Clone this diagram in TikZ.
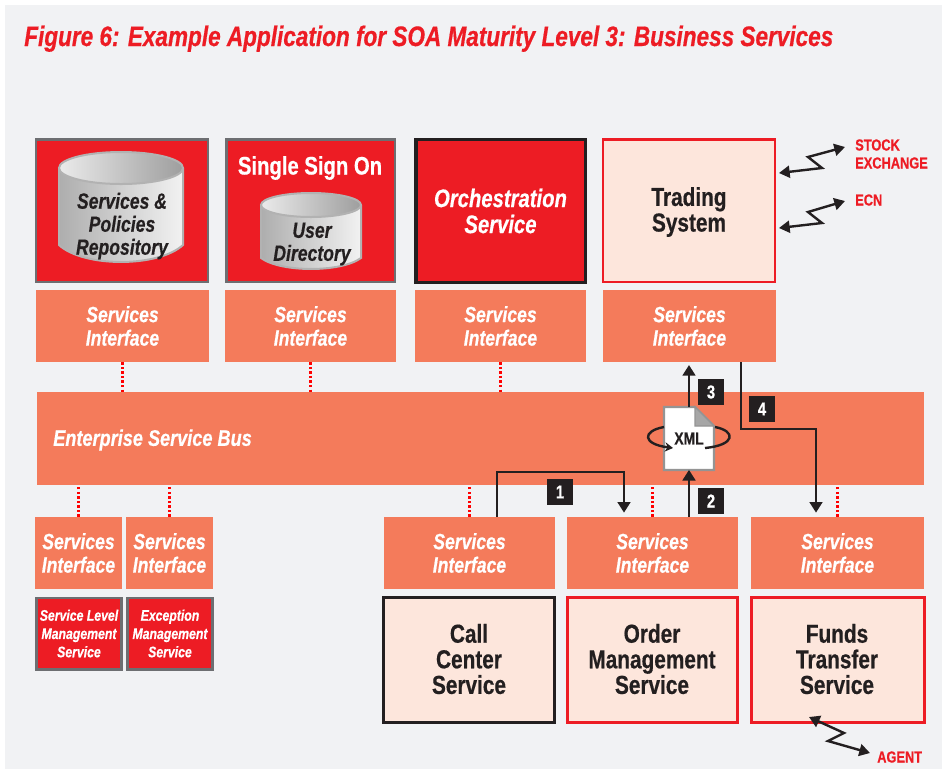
\documentclass[tikz,border=0pt]{standalone}
\usepackage{fontspec}
\setmainfont{Liberation Sans}[FakeStretch=0.8,BoldFeatures={FakeBold=0.5},BoldItalicFeatures={FakeBold=0.5}]
\usetikzlibrary{arrows.meta}
\definecolor{soared}{HTML}{ED1C24}
\definecolor{soasalmon}{HTML}{F47B5B}
\definecolor{soapink}{HTML}{FDE6DC}
\definecolor{soagray}{HTML}{6D6E71}
\definecolor{soapanel}{HTML}{F1F2F4}
\definecolor{soadark}{HTML}{231F20}
\tikzset{
	box/.style={inner sep=0pt,outer sep=0pt,align=center,font=\bfseries,text=soadark},
	ifbox/.style={box,fill=soasalmon,text=white,minimum height=54.5pt,font=\fontsize{16.5}{17.6}\selectfont\bfseries\itshape},
	redbox/.style={box,fill=soared,draw=soagray,line width=2pt,text=white},
	lightbox/.style={box,fill=soapink,draw=soared,line width=2pt,font=\fontsize{19.5}{19.2}\selectfont\bfseries},
	numbox/.style={box,fill=soadark,text=white,minimum width=19.5pt,minimum height=19.5pt,font=\fontsize{14}{14}\selectfont\bfseries},
	extlabel/.style={inner sep=0pt,anchor=west,align=left,text=soared,font=\fontsize{12}{13.5}\selectfont\bfseries},
	bus/.style={red,line width=1.7pt,dash pattern=on 1.8pt off 1.6pt},
	flow/.style={soadark,line width=2pt,-{Triangle[length=8pt,width=9.5pt]}},
	zig/.style={soadark,line width=1.8pt,{Triangle[length=8pt,width=9pt]}-{Triangle[length=8pt,width=9pt]}},
}
% cx, rx, top y, bottom y, ry top, ry bottom
\newcommand{\cyl}[6]{
	\shade[left color=black!32,middle color=black!14,right color=black!5]
		(#1-#2,#3) -- (#1-#2,#4) .. controls (#1-#2*0.6,#4+#6*1.33) and (#1+#2*0.6,#4+#6*1.33) .. (#1+#2,#4) -- (#1+#2,#3) -- cycle;
	\draw[black!30,line width=1.5pt]
		(#1-#2,#3) -- (#1-#2,#4) .. controls (#1-#2*0.6,#4+#6*1.33) and (#1+#2*0.6,#4+#6*1.33) .. (#1+#2,#4) -- (#1+#2,#3);
	\shade[left color=black!8,right color=black!38,draw=black!30,line width=1.5pt] (#1,#3) ellipse [x radius=#2,y radius=#5];
}
\begin{document}
\begin{tikzpicture}[x=0.75pt,y=-0.75pt]
	\useasboundingbox (0,0) rectangle (942,769);
	\fill[white] (0,0) rectangle (942,769);
	\fill[soapanel] (5,5) rectangle (942,769);
	\node[inner sep=0pt,anchor=base west,text=soared,font=\fontsize{21.15}{21}\selectfont\bfseries\itshape] (title) at (24,46)
		{Figure 6: Example Application for SOA Maturity Level 3: Business Services};
	% top row
	\node[redbox,minimum width=129pt,minimum height=107pt] (repo) at (122,210.5) {};
	\node[redbox,minimum width=126.5pt,minimum height=107pt] (sso) at (310.5,210.5) {};
	\node[box,fill=soared,draw=soadark,line width=2.5pt,text=white,minimum width=127pt,minimum height=107pt,
		font=\fontsize{19}{19.5}\selectfont\bfseries\itshape] (orch) at (500.5,211) {Orchestration\\Service};
	\node[lightbox,minimum width=129pt,minimum height=107pt] (trading) at (689,210.5) {};
	\node[box,font=\fontsize{19.5}{19.2}\selectfont\bfseries] (tradingtext) at (689,212) {Trading\\System};
	\cyl{121}{62}{168}{245}{16}{17}
	\node[box,font=\fontsize{16.5}{17.25}\selectfont\bfseries\itshape] (repotext) at (122,226) {Services \&\\Policies\\Repository};
	\node[box,text=white,font=\fontsize{19}{19}\selectfont\bfseries] (ssotext) at (310,168) {Single Sign On};
	\cyl{311}{50}{205}{258}{12}{11}
	\node[box,font=\fontsize{16.5}{17.25}\selectfont\bfseries\itshape] (dirtext) at (312,244) {User\\Directory};
	% interfaces
	\foreach \name/\x/\y/\w in {if1/122.5/326/129.5,if2/310.5/326/128,if3/500.5/326/128,if4/689.5/326/129.5,
		if5/78.5/553/65,if6/169.5/553/65,if7/469.5/553/128,if8/652.5/553/128,if9/837.5/553/129.5}
		\node[ifbox,minimum width=\w pt] (\name) at (\x,\y) {Services\\Interface};
	% bus
	\node[box,fill=soasalmon,minimum width=665pt,minimum height=70pt] (esb) at (480.5,438.5) {};
	\node[inner sep=0pt,anchor=west,text=white,font=\fontsize{17}{17}\selectfont\bfseries\itshape] (esbtext) at (53,440) {Enterprise Service Bus};
	\foreach \name in {if1,if2,if3}
		\draw[bus] (\name.south) -- (\name.south |- esb.north);
	\foreach \name in {if5,if6,if7,if8,if9}
		\draw[bus] (\name.north) -- (\name.north |- esb.south);
	% services at the bottom
	\foreach \name/\x/\txt in {slm/79/{Service Level\\Management\\Service},exc/170/{Exception\\Management\\Service}}
		\node[redbox,minimum width=64pt,minimum height=53.5pt,font=\fontsize{11.5}{13.7}\selectfont\bfseries\itshape] (\name) at (\x,633.5) {\txt};
	\node[lightbox,draw=soadark,line width=2.5pt,minimum width=128pt,minimum height=94pt] (call) at (469,660) {};
	\node[lightbox,minimum width=127.5pt,minimum height=94pt] (order) at (652.5,660) {};
	\node[lightbox,minimum width=129.5pt,minimum height=94pt] (funds) at (838,660) {};
	\node[box,font=\fontsize{19.5}{19.2}\selectfont\bfseries] (calltext) at (469,659) {Call\\Center\\Service};
	\node[box,font=\fontsize{19.5}{19.2}\selectfont\bfseries] (ordertext) at (652,659) {Order\\Management\\Service};
	\node[box,font=\fontsize{19.5}{19.2}\selectfont\bfseries] (fundstext) at (837,659) {Funds\\Transfer\\Service};
	% xml document
	\filldraw[fill=white,draw=black!42,line width=1.6pt] (664,407) -- (695,407) -- (714,426) -- (714,470) -- (664,470) -- cycle;
	\filldraw[fill=black!35,draw=black!42,line width=1pt] (695,407) -- (714,426) -- (695,426) -- cycle;
	\node[box,font=\fontsize{13}{13}\selectfont\bfseries,minimum width=37.5pt,minimum height=47pt] (xml) at (689,438.5) {XML};
	\draw[soadark,line width=1.8pt,-{Stealth[length=6pt,width=7pt]}] (664,427) .. controls (642,431) and (642,444) .. (673,448);
	\draw[soadark,line width=1.8pt] (705,448) .. controls (736,445) and (736,431) .. (715,427);
	% numbered flows
	\coordinate (up1) at (497,472);
	\coordinate (down1) at (624,472);
	\coordinate (out4) at (741,429);
	\coordinate (in4) at (816,429);
	\draw[flow,shorten >=3pt] (up1 |- if7.north) -- (up1) -- (down1) -- (down1 |- if8.north);
	\draw[flow] (xml.south |- if8.north) -- (xml.south);
	\draw[flow,shorten >=2pt] (xml.north) -- (xml.north |- if4.south);
	\draw[flow,shorten >=3pt] (out4 |- if4.south) -- (out4) -- (in4) -- (in4 |- if9.north);
	\node[numbox] (n1) at (560,492) {1};
	\node[numbox] (n2) at (711,501) {2};
	\node[numbox] (n3) at (711,392) {3};
	\node[numbox] (n4) at (762,409) {4};
	% outside links
	\node[extlabel] (stock) at (855,154) {STOCK\\EXCHANGE};
	\node[extlabel] (ecn) at (855,200) {ECN};
	\node[extlabel] (agent) at (877,757) {AGENT};
	\coordinate (stockin) at (779,173);
	\coordinate (stockout) at (845,147);
	\coordinate (ecnin) at (779,228);
	\coordinate (ecnout) at (845,201);
	\coordinate (agentin) at (809,717);
	\coordinate (agentout) at (870,753);
	\draw[zig] (stockin) -- (822,168) -- (808,157) -- (stockout);
	\draw[zig] (ecnin) -- (822,223) -- (808,212) -- (ecnout);
	\draw[zig] (agentin) -- (844,733) -- (828,741) -- (agentout);
\end{tikzpicture}
\end{document}
